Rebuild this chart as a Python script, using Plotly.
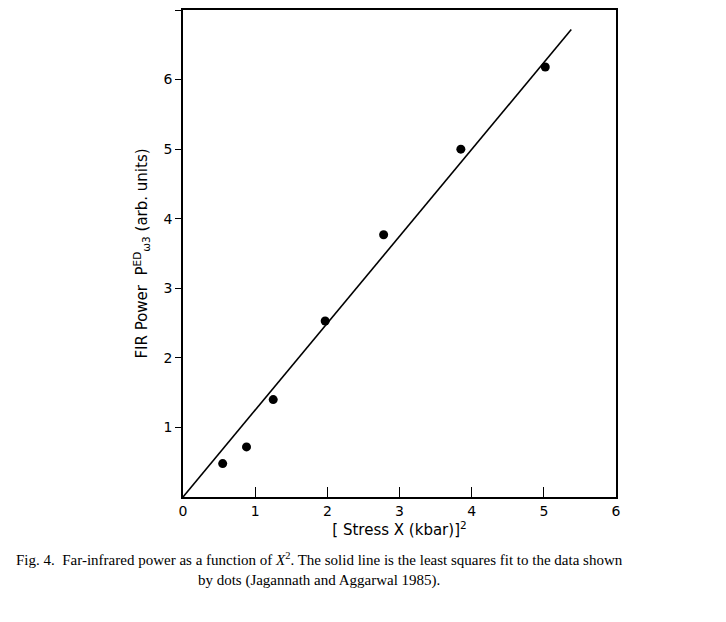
import plotly.graph_objects as go

x_vals = [0.55, 0.88, 1.25, 1.97, 2.78, 3.85, 5.02]
y_vals = [0.48, 0.72, 1.40, 2.53, 3.77, 5.00, 6.18]
fit_x = [0.0, 5.38]
fit_y = [0.0, 6.72]
x_ticks = [0, 1, 2, 3, 4, 5, 6]
y_ticks = [1, 2, 3, 4, 5, 6, 7]

fig = go.Figure()
fig.add_trace(go.Scatter(x=fit_x, y=fit_y, mode="lines",
                         line=dict(color="black", width=1.6), showlegend=False))
fig.add_trace(go.Scatter(x=x_vals, y=y_vals, mode="markers",
                         marker=dict(color="black", size=9), showlegend=False))

fig.update_layout(
    width=726, height=622,
    margin=dict(l=175, r=118, t=0, b=133),
    plot_bgcolor="white", paper_bgcolor="white",
    font=dict(family="DejaVu Sans", color="black", size=14),
    xaxis=dict(range=[0, 6], tickvals=x_ticks, ticks="inside", ticklen=10,
               showgrid=False, zeroline=False, showline=True, mirror=True,
               linecolor="black", linewidth=1.5, tickcolor="black",
               title=dict(text="[ Stress X (kbar)]<sup>2</sup>", standoff=6,
                          font=dict(size=15))),
    yaxis=dict(range=[0, 7], tickvals=y_ticks, ticks="outside", ticklen=6,
               showgrid=False, zeroline=False, showline=True, mirror=True,
               linecolor="black", linewidth=1.5, tickcolor="black",
               title=dict(text="FIR Power  P<sup>ED</sup><sub>ω3</sub> (arb. units)",
                          standoff=12, font=dict(size=15))),
    annotations=[dict(
        text="Fig. 4.  Far-infrared power as a function of <i>X</i><sup>2</sup>. The solid line is the least squares fit to the data shown<br>by dots (Jagannath and Aggarwal 1985).",
        xref="paper", yref="paper", x=0.5, y=-0.104, xanchor="center", yanchor="top",
        showarrow=False, align="center",
        font=dict(family="Liberation Serif", size=15, color="black"),
        xshift=-80)]
)
fig.write_html("out.html")
